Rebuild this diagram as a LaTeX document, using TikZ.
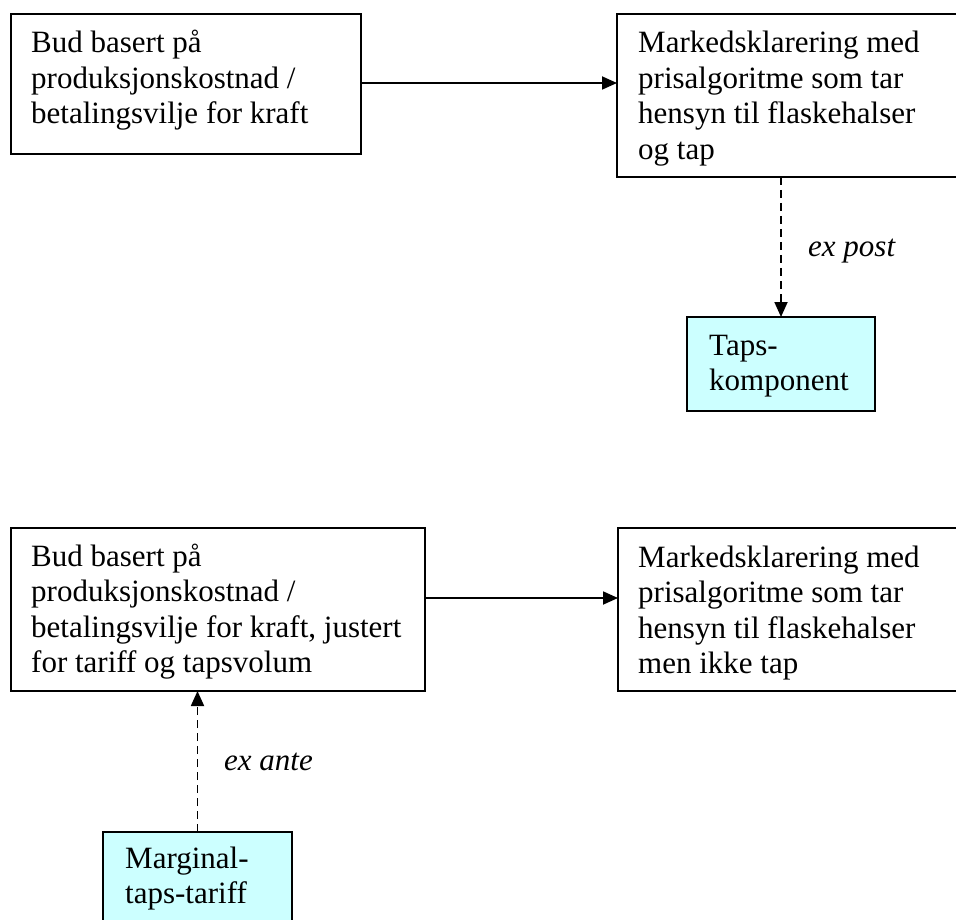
\documentclass[tikz,border=0pt]{standalone}
\usepackage{fontspec}
\setmainfont{Liberation Serif}
\usetikzlibrary{arrows.meta,calc}
\definecolor{cyanlight}{HTML}{CCFFFF}
\begin{document}
\begin{tikzpicture}[x=1pt,y=-1pt,
  box/.style={draw=black,line width=1.8pt,anchor=north west,inner sep=0pt,outer sep=0pt},
  lossbox/.style={box,fill=cyanlight},
  txt/.style={anchor=base west,inner sep=0pt,font=\fontsize{31}{35.5}\selectfont},
  lbl/.style={anchor=base west,inner sep=0pt,font=\fontsize{31}{35.5}\selectfont\itshape},
  flow/.style={line width=1.8pt,-{Triangle[length=15pt,width=13pt]}},
  dflow/.style={flow,dash pattern=on 8pt off 5pt}]
\useasboundingbox (0,0) rectangle (956,920);
\clip (0,0) rectangle (956,920);
\fill[white] (0,0) rectangle (956,920);
% top row
\node[box,minimum width=350pt,minimum height=140pt] (b1) at (11,14) {};
\node[box,minimum width=360pt,minimum height=163pt] (b2) at (617,14) {};
\node[lossbox,minimum width=188pt,minimum height=94pt] (tap) at (687,317) {};
\node[txt] (t1) at ($(b1.north west)+(20,39)$) {\parbox[t]{400pt}{Bud basert på\\produksjonskostnad /\\betalingsvilje for kraft}};
\node[txt] (t2) at ($(b2.north west)+(21,39)$) {\parbox[t]{400pt}{Markedsklarering med\\prisalgoritme som tar\\hensyn til flaskehalser\\og tap}};
\node[txt] (t3) at ($(tap.north west)+(22,38)$) {\parbox[t]{200pt}{Taps-\\komponent}};
\draw[flow] ([yshift=-69pt]b1.north east) -- ([yshift=-69pt]b2.north west);
\draw[dflow] (tap.north |- b2.south) -- (tap.north);
\node[lbl] (post) at (808,257) {ex post};
% bottom row
\node[box,minimum width=414pt,minimum height=163pt] (b3) at (11,528) {};
\node[box,minimum width=360pt,minimum height=163pt] (b4) at (618,528) {};
\node[lossbox,minimum width=189pt,minimum height=110pt] (marg) at (103,832) {};
\node[txt] (t4) at ($(b3.north west)+(20,38)$) {\parbox[t]{420pt}{Bud basert på\\produksjonskostnad /\\betalingsvilje for kraft, justert\\for tariff og tapsvolum}};
\node[txt] (t5) at ($(b4.north west)+(20,39)$) {\parbox[t]{400pt}{Markedsklarering med\\prisalgoritme som tar\\hensyn til flaskehalser\\men ikke tap}};
\node[txt] (t6) at ($(marg.north west)+(22,36)$) {\parbox[t]{200pt}{Marginal-\\taps-tariff}};
\draw[flow] ([yshift=-70pt]b3.north east) -- ([yshift=-70pt]b4.north west);
\draw[dflow] (marg.north) -- (marg.north |- b3.south);
\node[lbl] (ante) at (224,770) {ex ante};
\end{tikzpicture}
\end{document}
